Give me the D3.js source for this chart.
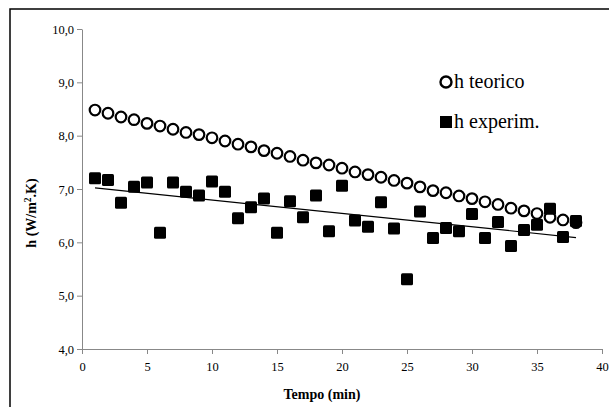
<!DOCTYPE html>
<html><head><meta charset="utf-8">
<script src="https://cdn.jsdelivr.net/npm/d3@7"></script>
<style>body{margin:0;background:#fff}svg{display:block}svg text{font-family:"Liberation Serif","Times New Roman","DejaVu Serif",serif}</style>
</head><body>
<script>
const tempo = d3.range(1, 39);
const hTeorico = [8.48,8.42,8.35,8.30,8.23,8.18,8.12,8.06,8.02,7.96,7.90,7.84,7.79,7.72,7.67,7.61,7.54,7.49,7.45,7.39,7.32,7.27,7.22,7.16,7.11,7.04,6.97,6.93,6.87,6.82,6.76,6.71,6.64,6.59,6.54,6.47,6.42,6.37];
const hExperim = [7.20,7.17,6.74,7.04,7.12,6.18,7.12,6.95,6.88,7.14,6.95,6.45,6.66,6.82,6.18,6.77,6.47,6.88,6.21,7.06,6.41,6.29,6.75,6.26,5.31,6.58,6.08,6.27,6.21,6.53,6.08,6.38,5.93,6.23,6.33,6.63,6.10,6.40];
const trendX = [1, 38];
const trendY = [7.02, 6.09];
const xTicks = [0,5,10,15,20,25,30,35,40];
const yTicks = [4,5,6,7,8,9,10];
const legendLabels = ["h teorico", "h experim."];

const W = 609, H = 407;
const svg = d3.select("body").append("svg").attr("width", W).attr("height", H);
svg.append("rect").attr("x",10).attr("y",9).attr("width",W+10).attr("height",H+10)
  .attr("fill","#fff").attr("stroke","#000").attr("stroke-width",1.5);

const x = d3.scaleLinear().domain([0,40]).range([82,602]);
const y = d3.scaleLinear().domain([4,10]).range([349,29]);
const fmt = d => d.toFixed(1).replace(".", ",");

const gx = svg.append("g").attr("transform",`translate(0,${y(4)})`)
  .call(d3.axisBottom(x).tickValues(xTicks).tickSize(5).tickSizeOuter(0).tickFormat(d3.format("d")));
const gy = svg.append("g").attr("transform",`translate(${x(0)},0)`)
  .call(d3.axisLeft(y).tickValues(yTicks).tickSize(5).tickSizeOuter(0).tickFormat(fmt));
[gx, gy].forEach(g => {
  g.attr("font-family", null);
  g.selectAll("path,line").attr("stroke","#888");
  g.selectAll("text").attr("font-size",12.5).attr("fill","#000");
});
gx.selectAll("text").attr("dy","1.1em");

const trend = d3.line().x(d => x(d[0])).y(d => y(d[1]));
svg.append("path").datum(trendX.map((v,i)=>[v,trendY[i]])).attr("d", trend)
  .attr("fill","none").attr("stroke","#000").attr("stroke-width",1.2);

svg.append("g").selectAll("circle").data(tempo).join("circle")
  .attr("cx", (d) => x(d)).attr("cy", (d,i) => y(hTeorico[i])).attr("r",5.3)
  .attr("fill","#fff").attr("stroke","#000").attr("stroke-width",2.2);

const s = 12;
svg.append("g").selectAll("rect").data(tempo).join("rect")
  .attr("x", d => x(d)-s/2).attr("y", (d,i) => y(hExperim[i])-s/2)
  .attr("width", s).attr("height", s).attr("rx",1.5).attr("fill","#000");

// legend
const lg = svg.append("g");
lg.append("circle").attr("cx",446).attr("cy",82).attr("r",5.5).attr("fill","#fff").attr("stroke","#000").attr("stroke-width",2.4);
lg.append("rect").attr("x",440).attr("y",116).attr("width",12).attr("height",12).attr("fill","#000");
lg.selectAll("text").data(legendLabels).join("text")
  .attr("x",454).attr("y",(d,i)=>88+i*40).text(d=>d)
  .attr("font-size",20).attr("fill","#000");

svg.append("text").attr("x",322).attr("y",399).attr("text-anchor","middle")
  .attr("font-weight","bold").attr("font-size",14).text("Tempo (min)");
const yt = svg.append("text").attr("transform","translate(36,213) rotate(-90)").attr("text-anchor","middle")
  .attr("font-weight","bold").attr("font-size",14);
yt.append("tspan").text("h (W/m");
yt.append("tspan").text("2").attr("font-size",9.5).attr("dy",-5);
yt.append("tspan").text(".K)").attr("dy",5);
</script>
</body></html>
